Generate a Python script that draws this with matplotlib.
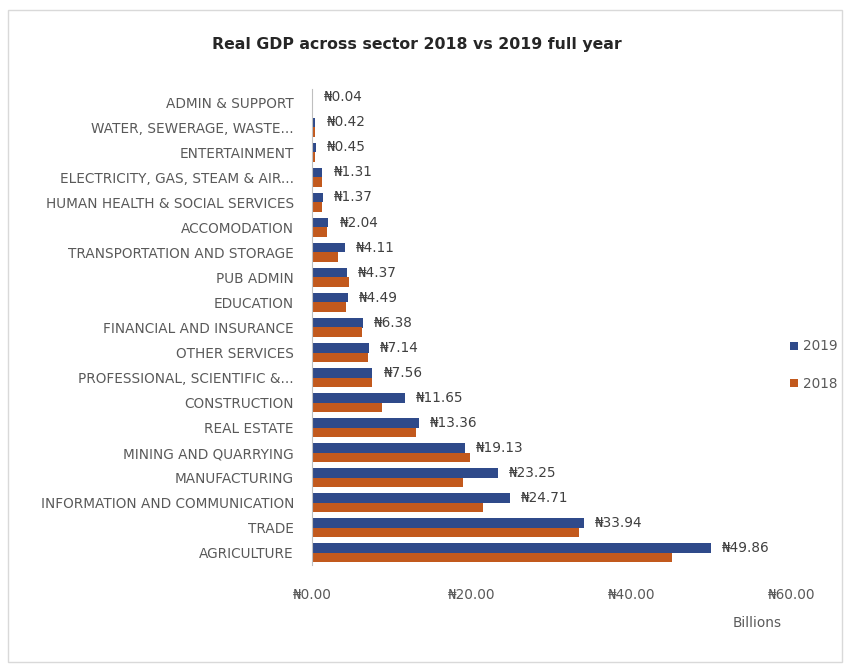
import matplotlib.pyplot as plt
from matplotlib.patches import Rectangle
import numpy as np

plt.rcParams['font.family'] = ['DejaVu Sans']

# Sectors listed from bottom (largest) to top (smallest)
sectors = [
    "AGRICULTURE",
    "TRADE",
    "INFORMATION AND COMMUNICATION",
    "MANUFACTURING",
    "MINING AND QUARRYING",
    "REAL ESTATE",
    "CONSTRUCTION",
    "PROFESSIONAL, SCIENTIFIC &...",
    "OTHER SERVICES",
    "FINANCIAL AND INSURANCE",
    "EDUCATION",
    "PUB ADMIN",
    "TRANSPORTATION AND STORAGE",
    "ACCOMODATION",
    "HUMAN HEALTH & SOCIAL SERVICES",
    "ELECTRICITY, GAS, STEAM & AIR...",
    "ENTERTAINMENT",
    "WATER, SEWERAGE, WASTE...",
    "ADMIN & SUPPORT",
]

# Real GDP, billions of naira
gdp_2019 = [49.86, 33.94, 24.71, 23.25, 19.13, 13.36, 11.65, 7.56, 7.14,
            6.38, 4.49, 4.37, 4.11, 2.04, 1.37, 1.31, 0.45, 0.42, 0.04]
gdp_2018 = [45.00, 33.40, 21.40, 18.90, 19.80, 13.00, 8.70, 7.50, 7.00,
            6.30, 4.30, 4.60, 3.30, 1.90, 1.30, 1.25, 0.40, 0.40, 0.04]

x_ticks = [0, 20, 40, 60]

blue = '#2F4A8A'
orange = '#C2591D'
grey = '#595959'
fs = 9.8

fig = plt.figure(figsize=(8.49, 6.68), dpi=100)
ax = fig.add_axes([312 / 849, 1 - 565.5 / 668, 480 / 849, 476 / 668])

y = np.arange(len(sectors))
h = 0.38
ax.barh(y + h / 2, gdp_2019, height=h, color=blue, label='2019')
ax.barh(y - h / 2, gdp_2018, height=h, color=orange, label='2018')

# value labels for 2019
for yi, v in zip(y, gdp_2019):
    ax.annotate(f'\u20a6{v:.2f}', xy=(v, yi + h / 2), xytext=(8, 0),
                textcoords='offset points', ha='left', va='center',
                fontsize=fs, color='#404040')

ax.set_xlim(0, 60)
ax.set_ylim(-0.5, len(sectors) - 0.5)
ax.set_yticks(y)
ax.set_yticklabels(sectors, fontsize=fs, color=grey)
ax.set_xticks(x_ticks)
ax.set_xticklabels([f'\u20a6{t:.2f}' for t in x_ticks], fontsize=fs, color=grey)
ax.tick_params(axis='y', length=0, pad=13)
ax.tick_params(axis='x', length=0, pad=16)
for side in ['top', 'right', 'bottom']:
    ax.spines[side].set_visible(False)
ax.spines['left'].set_color('#BFBFBF')
ax.spines['left'].set_linewidth(0.8)

fig.text(417 / 849, 1 - 45 / 668, 'Real GDP across sector 2018 vs 2019 full year',
         ha='center', va='center', fontsize=11.3, fontweight='bold', color='#262626')
fig.text(757 / 849, 1 - 623 / 668, 'Billions', ha='center', va='center',
         fontsize=fs, color=grey)

handles, labels = ax.get_legend_handles_labels()
fig.legend(handles, labels, loc='center left', bbox_to_anchor=(778 / 849, 1 - 365 / 668),
           frameon=False, fontsize=fs, labelcolor=grey, handlelength=0.55,
           handleheight=0.55, handletextpad=0.4, labelspacing=1.7)

# light frame around the chart
fig.patches.append(Rectangle((8 / 849, 1 - 662 / 668), 834 / 849, 652 / 668,
                             transform=fig.transFigure, fill=False,
                             edgecolor='#D9D9D9', linewidth=1))

fig.savefig('out.png', dpi=100)
